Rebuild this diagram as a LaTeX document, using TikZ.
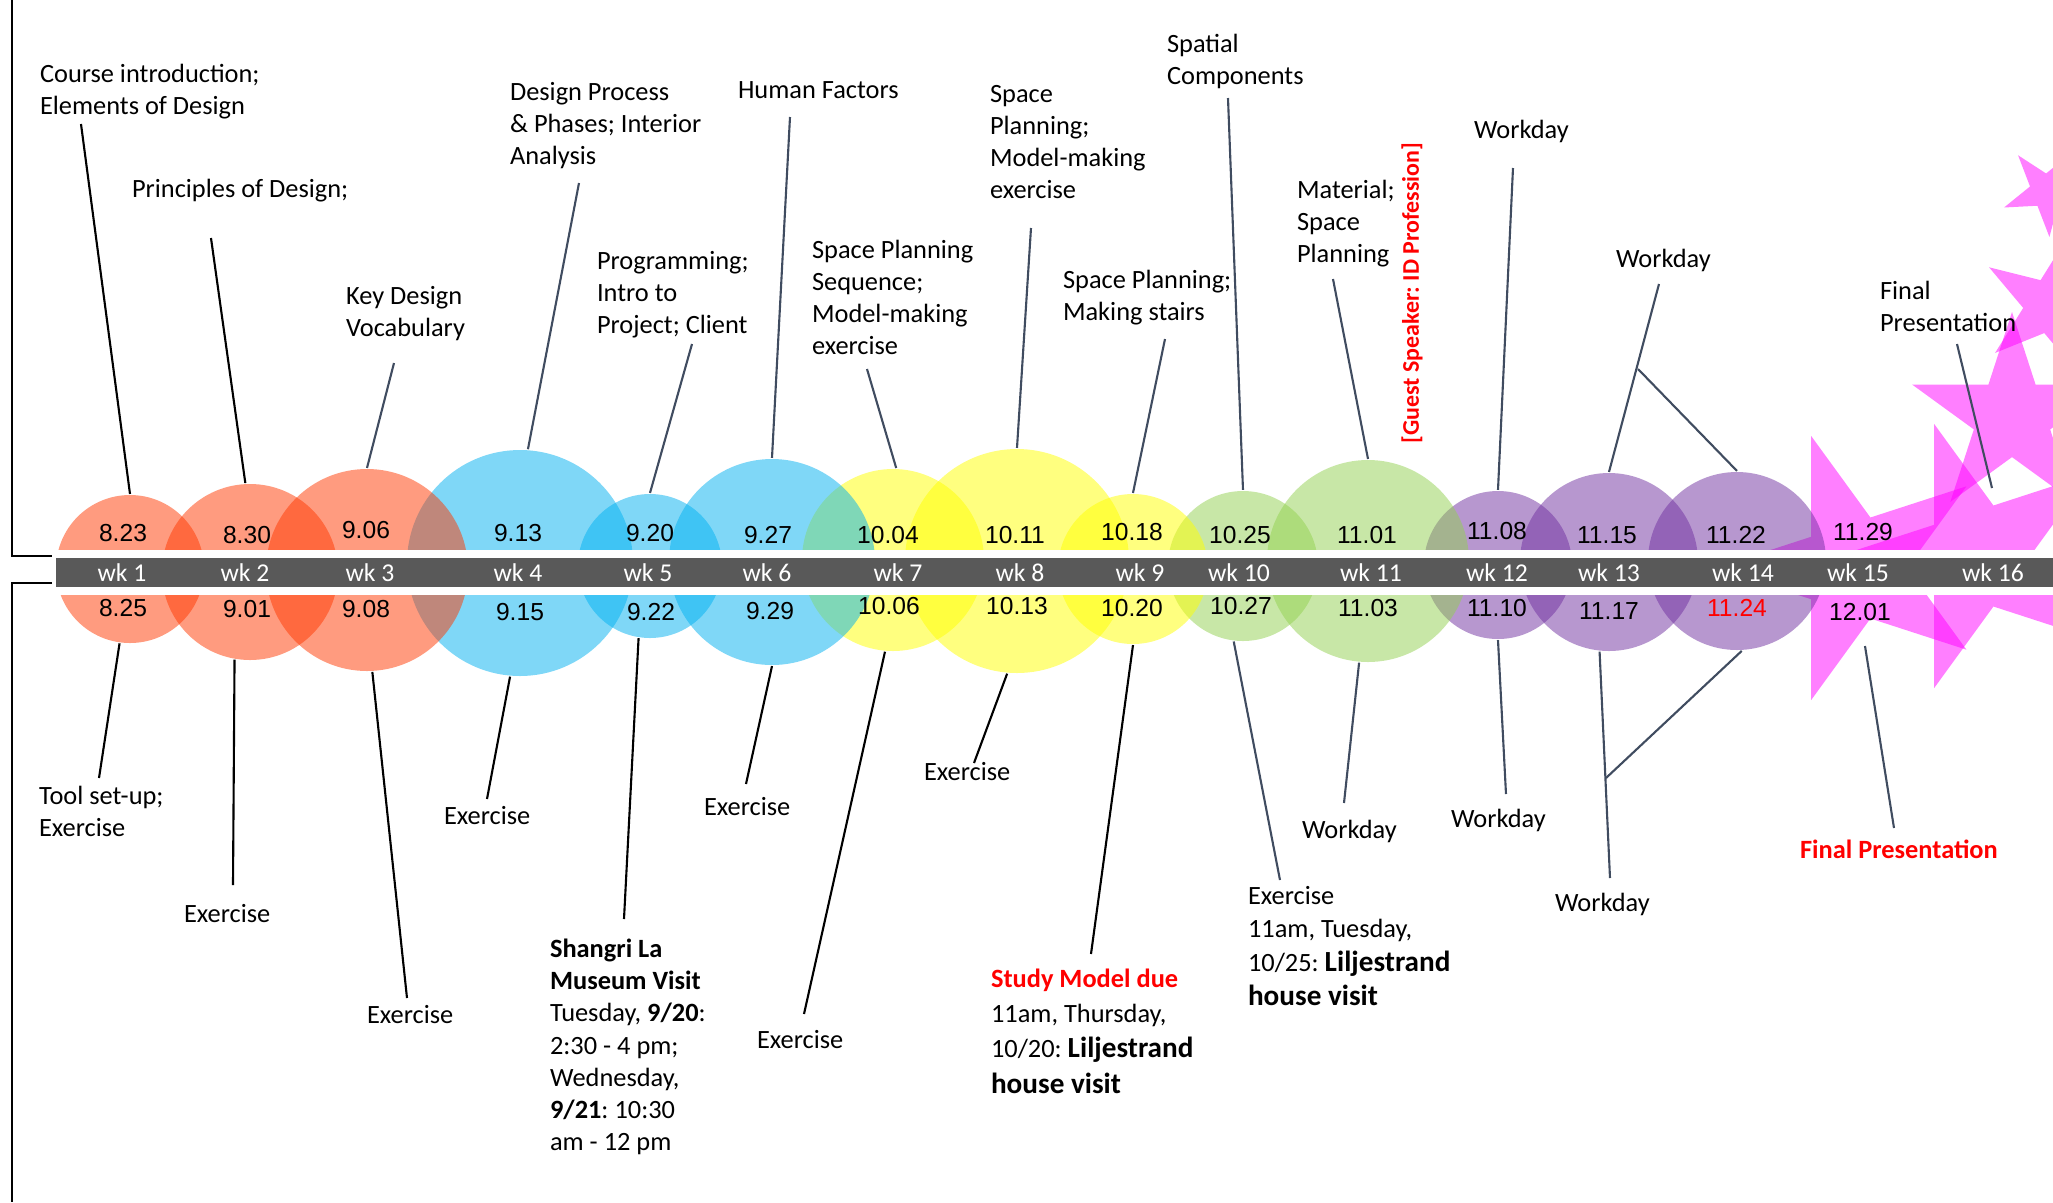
\documentclass[tikz,border=0pt]{standalone}
\usepackage{fontspec}
\setmainfont{Carlito}
\newfontfamily\datefont{Liberation Sans}
\frenchspacing
\newcommand\bigbf[1]{{\fontsize{8.3}{10}\selectfont\bfseries #1}}

\definecolor{salmonc}{RGB}{255,56,0}
\definecolor{skyc}{RGB}{0,176,240}
\definecolor{yellowc}{RGB}{255,255,0}
\definecolor{greenc}{RGB}{146,208,80}
\definecolor{purplec}{RGB}{112,48,160}
\definecolor{starc}{RGB}{255,0,255}
\definecolor{barc}{RGB}{89,89,89}
\definecolor{leadc}{RGB}{64,76,96}

\begin{document}
\begin{tikzpicture}[
        x=0.01cm, y=-0.01cm,
        line width=0.6pt,
        lbl/.style={font=\fontsize{7.5}{9.15}\selectfont, inner sep=0pt, align=left, anchor=north west},
        weekdot/.style={circle, draw=none, inner sep=0pt, fill=#1, fill opacity=0.5},
        starfill/.style={fill=starc, fill opacity=0.5},
        wklbl/.style={text=white, font=\fontsize{7.3}{8}\selectfont, inner sep=0pt},
        datelbl/.style={font=\datefont\fontsize{7}{8}\selectfont, inner sep=0pt},
        leadb/.style={draw=leadc}
    ]
        \useasboundingbox (0,0) rectangle (2053,1202);

        \draw (12,0) -- (12,556) -- (52,556);
        \draw (52,583) -- (12,583) -- (12,1202);

        \begin{scope}
            \clip (0,0) rectangle (2053,1202);
            \foreach \sx/\sy/\sr/\sa in {1854/568/139/-108, 1977/556/139/-108, 2012/417/105/-90, 2047/191/46/-129, 2051/306/73/-148}
                \fill[starfill, shift={(\sx,\sy)}] (\sa:\sr)
                    \foreach \k in {1,...,9} { -- ({\sa+36*\k}:{(1-0.618*mod(\k,2))*\sr}) } -- cycle;
        \end{scope}

        \foreach \n/\x/\y/\r/\c in {14/1737/561/89/purplec, 13/1609/562/89/purplec, 12/1498/565/74/purplec,
                11/1368/561/101/greenc, 10/1243/566/75/greenc, 9/1133/569/75/yellowc, 8/1017/561/112/yellowc,
                7/893/560/91/yellowc, 6/772/562/103/skyc, 5/650/566/72/skyc, 4/520/563/113/skyc,
                3/367/570/101/salmonc, 2/250/572/88/salmonc, 1/130/569/74/salmonc}
            \node[weekdot=\c, minimum size=2*\r*0.01cm] (c\n) at (\x,\y) {};

        \fill[white] (55,550) rectangle (2053,595);
        \fill[barc] (56,558) rectangle (2053,587);

        \foreach \n/\x in {1/122, 2/245, 3/370, 4/518, 5/648, 6/767, 7/898, 8/1020,
                9/1140, 10/1239, 11/1371, 12/1497, 13/1609, 14/1743, 15/1858, 16/1993}
            \node[wklbl] (w\n) at (\x,572.5) {wk \n};

        \foreach \n/\x/\y/\dd in {1/123/533/8.23, 2/247/535/8.30, 3/366/530/9.06, 4/518/533/9.13,
                5/650/533/9.20, 6/768/535/9.27, 7/888/535/10.04, 8/1015/535/10.11, 9/1132/532/10.18,
                10/1240/535/10.25, 11/1367/535/11.01, 12/1497/531/11.08, 13/1607/535/11.15,
                14/1736/535/11.22, 15/1863/532/11.29}
            \node[datelbl] (da\n) at (\x,\y) {\dd};
        \foreach \n/\x/\y/\dd in {1/123/608/8.25, 2/247/609/9.01, 3/366/609/9.08, 4/520/612/9.15,
                5/651/612/9.22, 6/770/611/9.29, 7/889/606/10.06, 8/1017/606/10.13, 9/1132/608/10.20,
                10/1241/606/10.27, 11/1368/608/11.03, 12/1497/608/11.10, 13/1609/611/11.17,
                15/1860/612/12.01}
            \node[datelbl] (db\n) at (\x,\y) {\dd};
        \node[datelbl, text=red] (db14) at (1737,608) {11.24};

        \node[lbl] (t1) at (39,63) {Course introduction;\\Elements of Design};
        \node[lbl] (t2) at (131,178) {Principles of Design;};
        \node[lbl] (t3) at (345,285) {Key Design\\Vocabulary};
        \node[lbl] (t4) at (509,81) {Design Process\\\& Phases; Interior\\Analysis};
        \node[lbl] (t5) at (596,250) {Programming;\\Intro to\\Project; Client};
        \node[lbl] (t6) at (737,81) {Human Factors};
        \node[lbl] (t7) at (811,239) {Space Planning\\Sequence;\\Model-making\\exercise};
        \node[lbl] (t8) at (989,84) {Space\\Planning;\\Model-making\\exercise};
        \node[lbl] (t9) at (1062,269) {Space Planning;\\Making stairs};
        \node[lbl] (t10) at (1166,33) {Spatial\\Components};
        \node[lbl] (t11) at (1296,179) {Material;\\Space\\Planning};
        \node[lbl, anchor=center, rotate=90, text=red, font=\fontsize{6.8}{8}\selectfont\bfseries] (guest) at (1412,293) {[Guest Speaker: ID Profession]};
        \node[lbl] (t12) at (1473,119) {Workday};
        \node[lbl] (t13) at (1615,248) {Workday};
        \node[lbl] (t15) at (1879,280) {Final\\Presentation};

        \node[lbl] (b1) at (38,785) {Tool set-up;\\Exercise};
        \node[lbl] (b2) at (183,903) {Exercise};
        \node[lbl] (b3) at (366,1004) {Exercise};
        \node[lbl] (b4) at (443,805) {Exercise};
        \node[lbl] (b5) at (549,938) {\textbf{Shangri La}\\\textbf{Museum Visit}\\Tuesday, \textbf{9/20}:\\2:30 - 4 pm;\\Wednesday,\\\textbf{9/21}: 10:30\\am - 12 pm};
        \node[lbl] (b6) at (703,796) {Exercise};
        \node[lbl] (b7) at (756,1029) {Exercise};
        \node[lbl] (b8) at (923,761) {Exercise};
        \node[lbl, font=\fontsize{7.5}{10}\selectfont] (b9) at (990,968) {\textcolor{red}{\textbf{Study Model due}}\\11am, Thursday,\\10/20: \bigbf{Liljestrand}\\\bigbf{house visit}};
        \node[lbl, font=\fontsize{7.5}{9.6}\selectfont] (b10) at (1247,885) {Exercise\\11am, Tuesday,\\10/25: \bigbf{Liljestrand}\\\bigbf{house visit}};
        \node[lbl] (b11) at (1301,819) {Workday};
        \node[lbl] (b12) at (1450,808) {Workday};
        \node[lbl] (b13) at (1554,892) {Workday};
        \node[lbl, text=red, font=\fontsize{7.5}{9.15}\selectfont\bfseries] (b15) at (1799,839) {Final Presentation};

        \coordinate (u1) at (81,124);
        \coordinate (u2) at (211,238);
        \coordinate (u3) at (394,363);
        \coordinate (u4) at (579,183);
        \coordinate (u5) at (692,344);
        \coordinate (u6) at (790,117);
        \coordinate (u7) at (867,369);
        \coordinate (u8) at (1031,228);
        \coordinate (u9) at (1165,339);
        \coordinate (u10) at (1228,98);
        \coordinate (u11) at (1333,279);
        \coordinate (u12) at (1513,168);
        \coordinate (u13) at (1659,284);
        \coordinate (u14) at (1638,369);
        \coordinate (u15) at (1957,344);
        \coordinate (u16) at (1992,488);

        \draw (u1) -- (c1.north);
        \draw (u2) -- (c2.93);
        \draw[leadb] (u3) -- (c3.north);
        \draw[leadb] (u4) -- (c4.86);
        \draw[leadb] (u5) -- (c5.north);
        \draw[leadb] (u6) -- (c6.north);
        \draw[leadb] (u7) -- (c7.88);
        \draw[leadb] (u8) -- (c8.north);
        \draw[leadb] (u9) -- (c9.north);
        \draw[leadb] (u10) -- (c10.north);
        \draw[leadb] (u11) -- (c11.north);
        \draw[leadb] (u12) -- (c12.north);
        \draw[leadb] (u13) -- (c13.north);
        \draw[leadb] (u14) -- (c14.north);
        \draw[leadb] (u15) -- (u16);

        \coordinate (l1) at (99,778);
        \coordinate (l2) at (233,885);
        \coordinate (l3) at (407,998);
        \coordinate (l4) at (487,799);
        \coordinate (l5) at (624,919);
        \coordinate (l6) at (746,784);
        \coordinate (l7) at (804,1014);
        \coordinate (l8) at (974,763);
        \coordinate (l9) at (1091,954);
        \coordinate (l10) at (1280,880);
        \coordinate (l11) at (1344,803);
        \coordinate (l12) at (1506,794);
        \coordinate (l13) at (1610,878);
        \coordinate (l14) at (1606,778);
        \coordinate (l15) at (1894,828);
        \coordinate (l16) at (1865,646);

        \draw (l1) -- (c1.262);
        \draw (l2) -- (c2.260);
        \draw (l3) -- (c3.273);
        \draw (l4) -- (c4.265);
        \draw (l5) -- (c5.261);
        \draw (l6) -- (c6.south);
        \draw (l7) -- (c7.265);
        \draw (l8) -- (c8.265);
        \draw (l9) -- (c9.south);
        \draw[leadb] (l10) -- (c10.263);
        \draw[leadb] (l11) -- (c11.265);
        \draw[leadb] (l12) -- (c12.south);
        \draw[leadb] (l13) -- (c13.264);
        \draw[leadb] (l14) -- (c14.273);
        \draw[leadb] (l15) -- (l16);
\end{tikzpicture}
\end{document}
